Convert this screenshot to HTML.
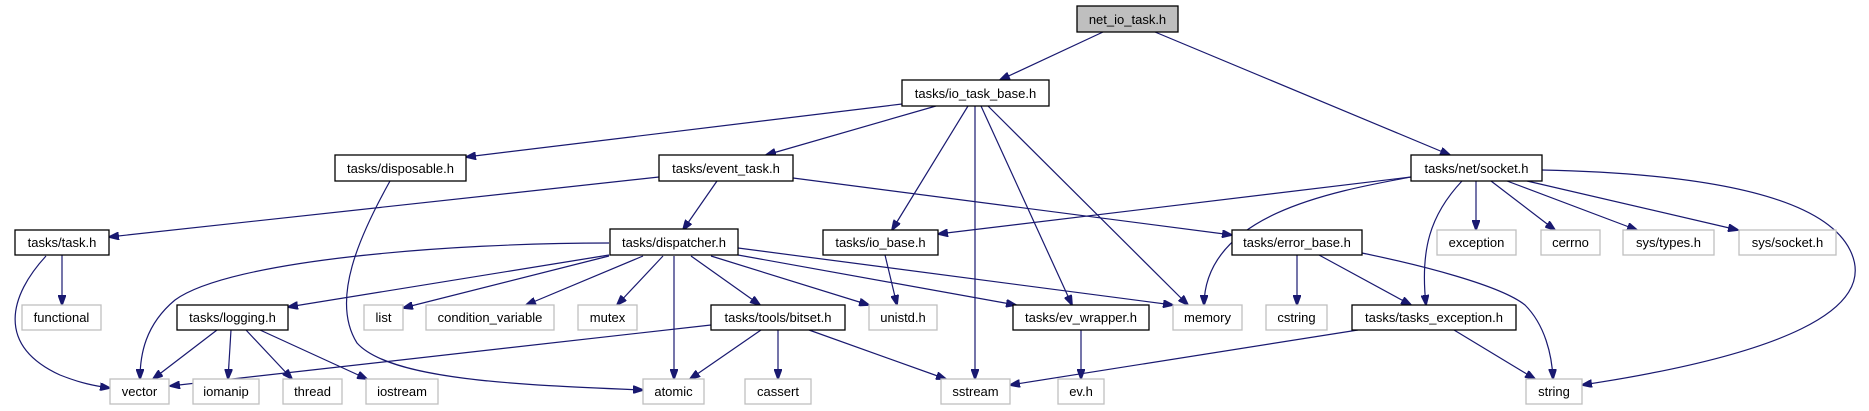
<!DOCTYPE html>
<html><head><meta charset="utf-8"><style>
html,body{margin:0;padding:0;background:#fff;}
svg{display:block;}
text{font-family:"Liberation Sans",sans-serif;font-size:13px;fill:#000;}
.e{fill:none;stroke:#191970;stroke-width:1.2;marker-end:url(#a);}
.d{fill:#fff;stroke:#000;stroke-width:1.3;}
.s{fill:#fff;stroke:#bfbfbf;stroke-width:1.3;}
</style></head><body>
<svg width="1869" height="411" viewBox="0 0 1869 411" xmlns="http://www.w3.org/2000/svg">
<defs><marker id="a" markerWidth="11" markerHeight="8" refX="10" refY="4" orient="auto" markerUnits="userSpaceOnUse"><path d="M0,0 L11,4 L0,8 Z" fill="#191970" stroke="#191970"/></marker></defs>

<!-- edges -->
<path class="e" d="M1103,32 L1000,80"/>
<path class="e" d="M1155,32 L1450,155"/>
<path class="e" d="M902,104 L466,157"/>
<path class="e" d="M936,106 L766,155"/>
<path class="e" d="M968,106 L892,230"/>
<path class="e" d="M975,106 L975,379"/>
<path class="e" d="M981,106 L1072,305"/>
<path class="e" d="M988,106 L1188,305"/>
<path class="e" d="M659,177 L109,237"/>
<path class="e" d="M717,181 L683,230"/>
<path class="e" d="M793,178 L1232,235"/>
<path class="e" d="M390,181 C360,235 330,300 357,343 C390,380 520,385 643,390"/>
<path class="e" d="M62,255 L62,305"/>
<path class="e" d="M46,256 C10,295 -5,345 60,375 C80,383 95,386 110,388"/>
<path class="e" d="M609,243 C450,243 230,260 175,300 C145,325 140,355 140,379"/>
<path class="e" d="M609,255 L288,307"/>
<path class="e" d="M609,256 L403,308"/>
<path class="e" d="M643,256 L526,305"/>
<path class="e" d="M663,256 L617,305"/>
<path class="e" d="M674,256 L674,379"/>
<path class="e" d="M691,256 L760,305"/>
<path class="e" d="M711,256 L869,305"/>
<path class="e" d="M738,255 L1016,305"/>
<path class="e" d="M738,248 L1173,305"/>
<path class="e" d="M217,330 L153,379"/>
<path class="e" d="M231,330 L228,379"/>
<path class="e" d="M246,330 L292,379"/>
<path class="e" d="M260,330 L367,379"/>
<path class="e" d="M711,325 L170,386"/>
<path class="e" d="M761,330 L690,379"/>
<path class="e" d="M778,330 L778,379"/>
<path class="e" d="M809,330 L946,379"/>
<path class="e" d="M885,255 L897,305"/>
<path class="e" d="M1081,330 L1081,379"/>
<path class="e" d="M1411,177 L938,234"/>
<path class="e" d="M1411,177 C1330,192 1205,215 1204,305"/>
<path class="e" d="M1462,181 C1430,215 1420,250 1426,305"/>
<path class="e" d="M1476,181 L1476,230"/>
<path class="e" d="M1491,181 L1555,230"/>
<path class="e" d="M1507,181 L1637,230"/>
<path class="e" d="M1527,181 L1738,230"/>
<path class="e" d="M1542,170 C1680,173 1820,190 1850,250 C1880,310 1780,355 1582,385"/>
<path class="e" d="M1297,255 L1297,305"/>
<path class="e" d="M1319,255 L1411,305"/>
<path class="e" d="M1362,253 C1420,265 1500,285 1525,305 C1545,325 1552,355 1553,379"/>
<path class="e" d="M1358,330 L1010,385"/>
<path class="e" d="M1454,330 L1535,379"/>

<!-- nodes -->
<rect x="1077" y="6" width="101" height="26" fill="#bfbfbf" stroke="#000" stroke-width="1.3"/><text x="1127.5" y="24" text-anchor="middle">net_io_task.h</text>
<rect class="d" x="902" y="80" width="147" height="26"/><text x="975.5" y="98" text-anchor="middle">tasks/io_task_base.h</text>
<rect class="d" x="335" y="155" width="131" height="26"/><text x="400.5" y="173" text-anchor="middle">tasks/disposable.h</text>
<rect class="d" x="659" y="155" width="134" height="26"/><text x="726" y="173" text-anchor="middle">tasks/event_task.h</text>
<rect class="d" x="1411" y="155" width="131" height="26"/><text x="1476.5" y="173" text-anchor="middle">tasks/net/socket.h</text>
<rect class="d" x="15" y="230" width="94" height="25"/><text x="62" y="247" text-anchor="middle">tasks/task.h</text>
<rect class="d" x="610" y="229" width="128" height="26"/><text x="674" y="247" text-anchor="middle">tasks/dispatcher.h</text>
<rect class="d" x="823" y="230" width="115" height="25"/><text x="880.5" y="247" text-anchor="middle">tasks/io_base.h</text>
<rect class="d" x="1232" y="230" width="130" height="25"/><text x="1297" y="247" text-anchor="middle">tasks/error_base.h</text>
<rect class="s" x="1437" y="230" width="79" height="25"/><text x="1476.5" y="247" text-anchor="middle">exception</text>
<rect class="s" x="1541" y="230" width="59" height="25"/><text x="1570.5" y="247" text-anchor="middle">cerrno</text>
<rect class="s" x="1623" y="230" width="91" height="25"/><text x="1668.5" y="247" text-anchor="middle">sys/types.h</text>
<rect class="s" x="1739" y="230" width="97" height="25"/><text x="1787.5" y="247" text-anchor="middle">sys/socket.h</text>
<rect class="s" x="22" y="305" width="79" height="25"/><text x="61.5" y="322" text-anchor="middle">functional</text>
<rect class="d" x="177" y="305" width="111" height="25"/><text x="232.5" y="322" text-anchor="middle">tasks/logging.h</text>
<rect class="s" x="364" y="305" width="39" height="25"/><text x="383.5" y="322" text-anchor="middle">list</text>
<rect class="s" x="426" y="305" width="128" height="25"/><text x="490" y="322" text-anchor="middle">condition_variable</text>
<rect class="s" x="578" y="305" width="59" height="25"/><text x="607.5" y="322" text-anchor="middle">mutex</text>
<rect class="d" x="711" y="305" width="134" height="25"/><text x="778" y="322" text-anchor="middle">tasks/tools/bitset.h</text>
<rect class="s" x="869" y="305" width="68" height="25"/><text x="903" y="322" text-anchor="middle">unistd.h</text>
<rect class="d" x="1013" y="305" width="136" height="25"/><text x="1081" y="322" text-anchor="middle">tasks/ev_wrapper.h</text>
<rect class="s" x="1173" y="305" width="69" height="25"/><text x="1207.5" y="322" text-anchor="middle">memory</text>
<rect class="s" x="1266" y="305" width="61" height="25"/><text x="1296.5" y="322" text-anchor="middle">cstring</text>
<rect class="d" x="1352" y="305" width="164" height="25"/><text x="1434" y="322" text-anchor="middle">tasks/tasks_exception.h</text>
<rect class="s" x="110" y="379" width="59" height="25"/><text x="139.5" y="396" text-anchor="middle">vector</text>
<rect class="s" x="193" y="379" width="66" height="25"/><text x="226" y="396" text-anchor="middle">iomanip</text>
<rect class="s" x="283" y="379" width="59" height="25"/><text x="312.5" y="396" text-anchor="middle">thread</text>
<rect class="s" x="366" y="379" width="72" height="25"/><text x="402" y="396" text-anchor="middle">iostream</text>
<rect class="s" x="643" y="379" width="61" height="25"/><text x="673.5" y="396" text-anchor="middle">atomic</text>
<rect class="s" x="745" y="379" width="66" height="25"/><text x="778" y="396" text-anchor="middle">cassert</text>
<rect class="s" x="941" y="379" width="69" height="25"/><text x="975.5" y="396" text-anchor="middle">sstream</text>
<rect class="s" x="1058" y="379" width="46" height="25"/><text x="1081" y="396" text-anchor="middle">ev.h</text>
<rect class="s" x="1526" y="379" width="56" height="25"/><text x="1554" y="396" text-anchor="middle">string</text>
</svg>
</body></html>
